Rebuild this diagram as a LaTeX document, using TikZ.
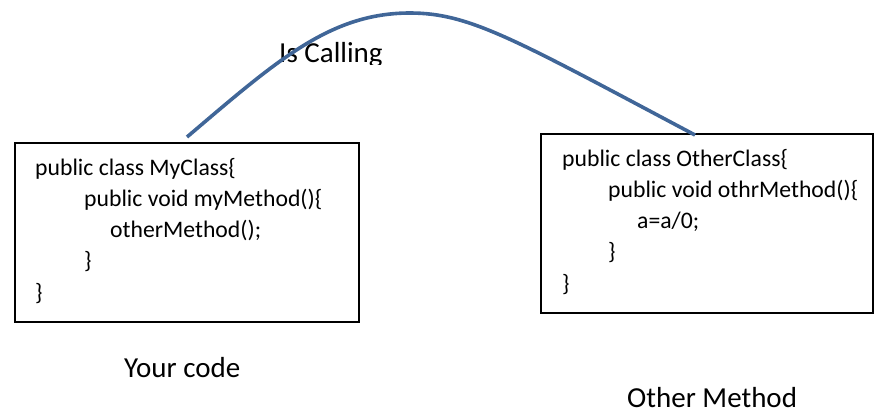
\documentclass[tikz,border=0pt]{standalone}
\usepackage{fontspec}
\setmainfont{Carlito}
\definecolor{arcblue}{RGB}{64,102,152}
\begin{document}
\begin{tikzpicture}[x=1pt,y=-1pt,
  box/.style={draw=black, line width=1.6pt, anchor=north west, inner sep=0pt},
  code/.style={anchor=base west, inner sep=0pt, font=\fontsize{23.7}{28}\selectfont},
  lbl/.style={anchor=base west, inner sep=0pt, font=\fontsize{29}{34}\selectfont},
  call/.style={draw=arcblue, line width=3.6pt}]
\useasboundingbox (0,0) rectangle (874,413);
% boxes
\node[box, minimum width=344, minimum height=179] (b1) at (14,142) {};
\node[box, minimum width=332, minimum height=179] (b2) at (540,133) {};
% code in box 1
\node[code] (m1) at (35,175) {public class MyClass\{};
\node[code] (m2) at (84,206.3) {public void myMethod()\{};
\node[code] (m3) at (110,237.6) {otherMethod();};
\node[code] (m4) at (84,268.9) {\}};
\node[code] (m5) at (35,300.2) {\}};
% code in box 2
\node[code] (o1) at (562,166) {public class OtherClass\{};
\node[code] (o2) at (608,197.3) {public void othrMethod()\{};
\node[code] (o3) at (637,228.6) {a=a/0;};
\node[code] (o4) at (608,259.9) {\}};
\node[code] (o5) at (562,291.2) {\}};
% labels
\node[lbl] (yc) at (124,377) {Your code};
\node[lbl] (om) at (627,407) {Other Method};
\begin{scope}
  \clip (250,0) rectangle (420,64);
  \node[lbl] (ic) at (279,62) {Is Calling};
\end{scope}
% connector
\coordinate (s) at (187,137);
\coordinate (pk) at (410,13);
\coordinate (e) at (695,135);
\draw[call] (s) .. controls (277,60.5) and (330,13) .. (pk)
                .. controls (470,13) and (515,39.6) .. (e);
\end{tikzpicture}
\end{document}
